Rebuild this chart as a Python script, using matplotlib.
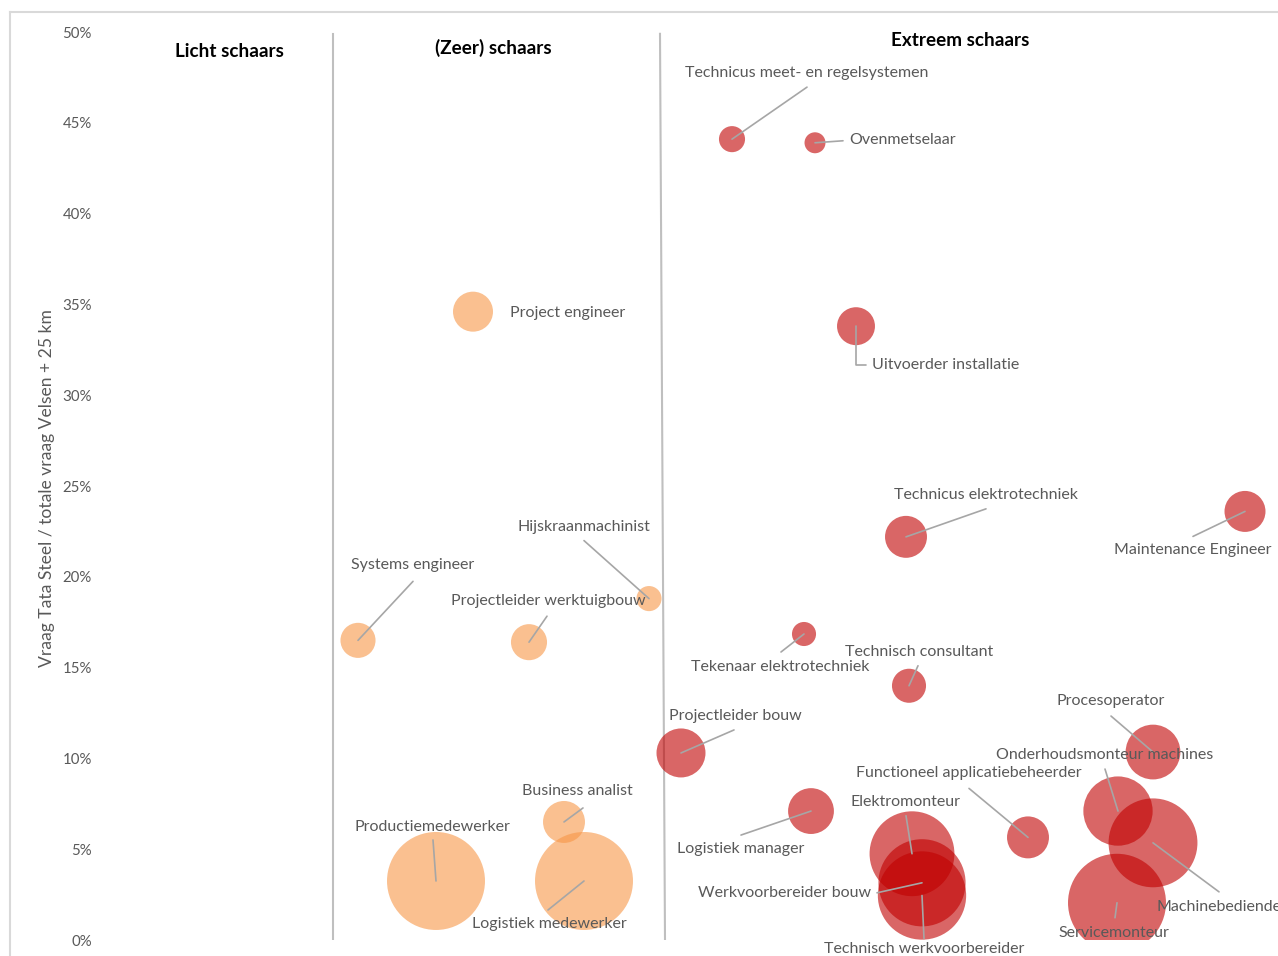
import numpy as np
import matplotlib
matplotlib.use("Agg")
import matplotlib.pyplot as plt
from matplotlib.lines import Line2D

plt.rcParams['font.family'] = ['Lato', 'DejaVu Sans']

# --- data ---------------------------------------------------------------
# oranje: (zeer) schaars
namen_oranje = ["Systems engineer", "Projectleider werktuigbouw", "Hijskraanmachinist",
                "Project engineer", "Business analist", "Productiemedewerker",
                "Logistiek medewerker"]
x_oranje = [2.58, 4.29, 5.49, 3.73, 4.64, 3.36, 4.84]
y_oranje = [16.5, 16.4, 18.8, 34.6, 6.5, 3.25, 3.25]
omvang_oranje = [12.3, 13.0, 6.3, 16.0, 17.6, 96.0, 96.0]

# rood: extreem schaars
namen_rood = ["Technicus meet- en regelsystemen", "Ovenmetselaar", "Uitvoerder installatie",
              "Technicus elektrotechniek", "Maintenance Engineer", "Tekenaar elektrotechniek",
              "Technisch consultant", "Projectleider bouw", "Procesoperator",
              "Logistiek manager", "Functioneel applicatiebeheerder", "Elektromonteur",
              "Werkvoorbereider bouw", "Technisch werkvoorbereider",
              "Onderhoudsmonteur machines", "Machinebediende", "Servicemonteur"]
x_rood = [6.32, 7.15, 7.56, 8.06, 11.45, 7.04, 8.09, 5.81, 10.53,
          7.11, 9.28, 8.12, 8.22, 8.22, 10.18, 10.53, 10.17]
y_rood = [44.1, 43.9, 33.8, 22.2, 23.6, 16.85, 14.0, 10.3, 10.35,
          7.1, 5.65, 4.75, 3.15, 2.45, 7.1, 5.35, 2.05]
omvang_rood = [6.8, 4.4, 14.4, 17.6, 16.8, 5.8, 11.6, 24.0, 30.0,
               21.0, 17.6, 72.0, 76.0, 78.0, 48.0, 79.0, 96.0]

secties = ["Licht schaars", "(Zeer) schaars", "Extreem schaars"]
grens_x = [(2.33, 2.33), (5.60, 5.65)]

# label layout: text offset (px), leader start offset (px), alignment
labels = {
    "Systems engineer": (55, 75, 55, 59, "center"),
    "Projectleider werktuigbouw": (19, 41, 18, 26, "center"),
    "Hijskraanmachinist": (-65, 72, -65, 58, "center"),
    "Project engineer": (37, -1, None, None, "left"),
    "Business analist": (13, 31, 19, 14, "center"),
    "Productiemedewerker": (-4, 54, -3, 41, "center"),
    "Logistiek medewerker": (-35, -43, -36, -29, "center"),
    "Technicus meet- en regelsystemen": (75, 66, 75, 52, "center"),
    "Ovenmetselaar": (34, 3, 28, 2, "left"),
    "Uitvoerder installatie": (90, -39, 10, -39, "center"),
    "Technicus elektrotechniek": (80, 42, 80, 28, "center"),
    "Maintenance Engineer": (-52, -39, -52, -25, "center"),
    "Tekenaar elektrotechniek": (-24, -33, -23, -18, "center"),
    "Technisch consultant": (10, 34, 9, 20, "center"),
    "Projectleider bouw": (54, 37, 53, 23, "center"),
    "Procesoperator": (-42, 51, -42, 36, "center"),
    "Onderhoudsmonteur machines": (-13, 56, -13, 42, "center"),
    "Functioneel applicatiebeheerder": (-59, 64, -59, 49, "center"),
    "Logistiek manager": (-70, -38, -70, -24, "center"),
    "Elektromonteur": (-6, 52, -6, 38, "center"),
    "Werkvoorbereider bouw": (-137, -10, -45, -10, "center"),
    "Technisch werkvoorbereider": (2, -53, 2, -43, "center"),
    "Servicemonteur": (-3, -30, -2, -15, "center"),
    "Machinebediende": (4, -64, 66, -49, "left"),
}

# --- figure -------------------------------------------------------------
fig = plt.figure(figsize=(12.78, 9.56), dpi=100)
ax = fig.add_axes([100 / 1278, 16 / 956, 1178 / 1278, 908 / 956])
ax.set_xlim(0, 11.78)
ax.set_ylim(0, 50)

schaal = 51.84
ax.scatter(x_oranje, y_oranje, s=np.array(omvang_oranje) * schaal,
           color="#F79646", alpha=0.6, linewidths=0, zorder=2)
ax.scatter(x_rood, y_rood, s=np.array(omvang_rood) * schaal,
           color="#C00000", alpha=0.6, linewidths=0, zorder=2)

# scheidingslijnen tussen de secties
for xs in grens_x:
    ax.plot([xs[0], xs[1]], [49.9, 0], color="#BFBFBF", lw=1.5, zorder=1)

ax.text(1.29, 48.95, secties[0], ha="center", va="center", fontsize=13.6, fontweight="bold")
ax.text(3.93, 49.1, secties[1], ha="center", va="center", fontsize=13.6, fontweight="bold")
ax.text(8.60, 49.55, secties[2], ha="center", va="center", fontsize=13.6, fontweight="bold")

lijn = dict(arrowstyle="-", color="#A6A6A6", lw=1.2, shrinkA=0, shrinkB=0)
for namen, xs, ys in [(namen_oranje, x_oranje, y_oranje), (namen_rood, x_rood, y_rood)]:
    for naam, x, y in zip(namen, xs, ys):
        dx, dy, lx, ly, ha = labels[naam]
        if lx is not None:
            props = dict(lijn)
            if naam == "Uitvoerder installatie":
                props["connectionstyle"] = "angle,angleA=0,angleB=90,rad=0"
            ax.annotate("", xy=(x, y), xytext=(lx, ly), textcoords="offset pixels",
                        arrowprops=props, zorder=4)
        ax.annotate(naam, xy=(x, y), xytext=(dx, dy), textcoords="offset pixels",
                    ha=ha, va="center", fontsize=11.5, color="#595959", zorder=5)

ax.set_yticks(np.arange(0, 51, 5))
ax.set_yticklabels([f"{v}%" for v in range(0, 51, 5)])
ax.tick_params(axis="y", length=0, pad=6, labelsize=10.8, labelcolor="#595959")
ax.set_xticks([])
for sp in ax.spines.values():
    sp.set_visible(False)
ax.set_ylabel("Vraag Tata Steel / totale vraag Velsen + 25 km", fontsize=12.6, color="#595959")
ax.yaxis.set_label_coords(-0.038, 0.498)

# rand van het grafiekgebied
fig.add_artist(Line2D([10 / 1278, 10 / 1278], [0, 944 / 956], color="#D9D9D9", lw=1.5))
fig.add_artist(Line2D([10 / 1278, 1], [944 / 956, 944 / 956], color="#D9D9D9", lw=1.5))

fig.savefig("out.png", dpi=100)
